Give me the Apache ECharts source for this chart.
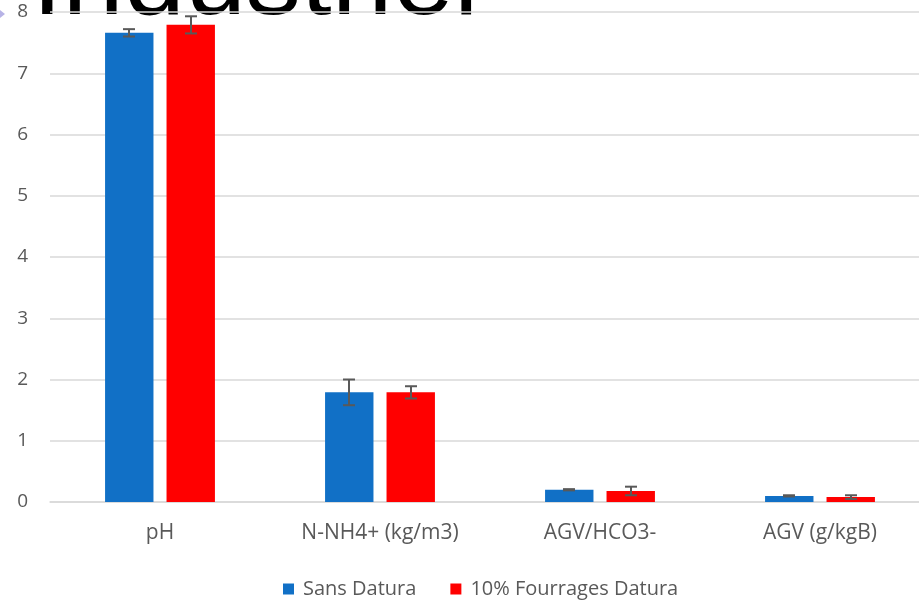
<!DOCTYPE html>
<html>
<head>
<meta charset="utf-8">
<script src="https://cdn.jsdelivr.net/npm/echarts@6/dist/echarts.min.js"></script>
<style>
  html, body { margin: 0; padding: 0; background: #fff; }
  #chart { width: 919px; height: 600px; }
</style>
</head>
<body>
<div id="chart"></div>
<script>
// donnees
var categories = ['pH', 'N-NH4+ (kg/m3)', 'AGV/HCO3-', 'AGV (g/kgB)'];
var sansDatura = [7.66, 1.79, 0.20, 0.10];
var sansDaturaErr = [0.06, 0.21, 0.01, 0.01];
var fourrages = [7.79, 1.79, 0.18, 0.08];
var fourragesErr = [0.14, 0.10, 0.07, 0.03];
var yTicks = [0, 1, 2, 3, 4, 5, 6, 7, 8];

var font = 'Open Sans';
var grey = '#595959';

function errData(vals, errs) {
  var out = [];
  vals.forEach(function (v, i) {
    out.push([i, v + errs[i], v - errs[i]]);
  });
  return out;
}

// barres d'erreur, decalees comme les barres
function errorBars(offset) {
  return function (params, api) {
    var i = api.value(0);
    var hi = api.coord([i, api.value(1)]);
    var lo = api.coord([i, api.value(2)]);
    var band = api.size([1, 0])[0];
    var x = hi[0] + band * offset;
    var half = 6;
    var st = { stroke: grey, lineWidth: 2 };
    return {
      type: 'group',
      children: [
        { type: 'line', shape: { x1: x, y1: hi[1], x2: x, y2: lo[1] }, style: st },
        { type: 'line', shape: { x1: x - half, y1: hi[1], x2: x + half, y2: hi[1] }, style: st },
        { type: 'line', shape: { x1: x - half, y1: lo[1], x2: x + half, y2: lo[1] }, style: st }
      ]
    };
  };
}

var myChart = echarts.init(document.getElementById('chart'));
myChart.setOption({
  backgroundColor: '#fff',
  animation: false,
  graphic: [
    {
      type: 'text',
      z: -10,
      x: 32,
      y: 39,
      style: {
        text: 'Industriel',
        font: '110px "Liberation Sans"',
        fill: '#000',
        verticalAlign: 'bottom'
      }
    },
    {
      type: 'polygon',
      shape: { points: [[0, 10], [5, 14], [0, 18]] },
      style: { fill: '#b7b3e6' }
    }
  ],
  grid: {
    left: 50,
    right: -11,
    top: 12,
    bottom: 98,
    outerBoundsMode: 'none'
  },
  legend: {
    left: 278,
    top: 574,
    icon: 'rect',
    itemWidth: 11,
    itemHeight: 11,
    itemGap: 34,
    textStyle: { color: grey, fontSize: 20, fontFamily: font, padding: [0, 0, 0, 4] },
    data: ['Sans Datura', '10% Fourrages Datura']
  },
  xAxis: {
    type: 'category',
    data: categories,
    axisLine: { lineStyle: { color: '#d9d9d9', width: 1.5 } },
    axisTick: { show: false },
    axisLabel: { color: grey, fontSize: 21, fontFamily: font, margin: 21 }
  },
  yAxis: {
    type: 'value',
    min: 0,
    max: 8,
    interval: 1,
    axisLine: { show: false },
    axisTick: { show: false },
    splitLine: { lineStyle: { color: '#d9d9d9', width: 1.5 } },
    axisLabel: { color: grey, fontSize: 19, fontFamily: font, margin: 22 }
  },
  series: [
    {
      name: 'Sans Datura',
      type: 'bar',
      data: sansDatura,
      barWidth: '22%',
      barGap: '27%',
      itemStyle: { color: '#1170c6' }
    },
    {
      name: '10% Fourrages Datura',
      type: 'bar',
      data: fourrages,
      barWidth: '22%',
      barGap: '27%',
      itemStyle: { color: '#ff0000' }
    },
    {
      type: 'custom',
      data: errData(sansDatura, sansDaturaErr),
      encode: { x: 0, y: [1, 2] },
      renderItem: errorBars(-0.141),
      z: 5
    },
    {
      type: 'custom',
      data: errData(fourrages, fourragesErr),
      encode: { x: 0, y: [1, 2] },
      renderItem: errorBars(0.141),
      z: 5
    }
  ]
});
</script>
</body>
</html>
